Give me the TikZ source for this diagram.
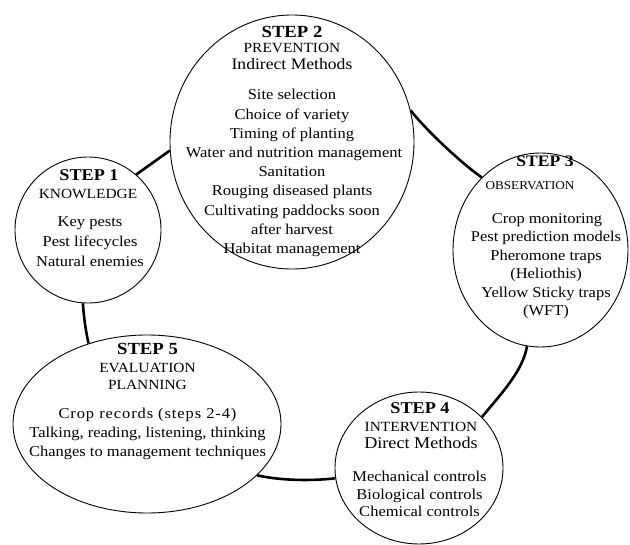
\documentclass[tikz,border=0pt]{standalone}
\usepackage{fontspec}
\setmainfont{Liberation Serif}[FakeStretch=1.1]
\usetikzlibrary{shapes.geometric}
\begin{document}
\begin{tikzpicture}[x=1pt,y=-1pt,
  ell/.style={draw, ellipse, line width=0.9pt, inner sep=0pt},
  link/.style={line width=2.6pt},
  hd/.style={anchor=base, inner sep=0pt, font=\bfseries\fontsize{17}{20}\selectfont},
  sub/.style={anchor=base, inner sep=0pt, font=\fontsize{14}{17}\selectfont},
  mid/.style={anchor=base, inner sep=0pt, font=\fontsize{16}{19}\selectfont},
  txt/.style={anchor=base, inner sep=0pt, font=\fontsize{15}{18}\selectfont}]
\useasboundingbox (0,0) rectangle (630,545);
% ellipses
\node[ell, minimum width=146pt, minimum height=146pt] (s1) at (88,230) {};
\node[ell, minimum width=244pt, minimum height=254pt] (s2) at (292,142) {};
\node[ell, minimum width=175pt, minimum height=194pt] (s3) at (540.5,250) {};
\node[ell, minimum width=168pt, minimum height=152pt] (s4) at (419,468) {};
\node[ell, minimum width=268pt, minimum height=178pt] (s5) at (147,424) {};
% connectors
\draw[link] (s1.49) -- (s2.184);
\draw[link] (s2.15) .. controls +(12,16) and +(-24,-17) .. (s3.129);
\draw[link] (s3.262) .. controls +(-4,25) and +(18,-22) .. (s4.39);
\draw[link] (s4.187) .. controls +(-25,3) and +(22,5) .. (s5.335);
\draw[link] (s5.126) .. controls +(-3,-14) and +(1,14) .. (s1.266);
% step 1
\node[hd, font=\bfseries\fontsize{16.5}{20}\selectfont] (a1) at (89,181) {STEP 1};
\node[sub] (a2) at (88,199) {KNOWLEDGE};
\node[txt] (a3) at (90,226.7) {Key pests};
\node[txt] (a4) at (90,246.7) {Pest lifecycles};
\node[txt] (a5) at (90,266.7) {Natural enemies};
% step 2
\node[hd] (b1) at (292,37.3) {STEP 2};
\node[sub] (b2) at (292,52.3) {PREVENTION};
\node[mid] (b3) at (292,70) {Indirect Methods};
\node[txt] (b4) at (292,100) {Site selection};
\node[txt] (b5) at (292,119.2) {Choice of variety};
\node[txt] (b6) at (292,138.4) {Timing of planting};
\node[txt] (b7) at (294,157.6) {Water and nutrition management};
\node[txt] (b8) at (292,176.8) {Sanitation};
\node[txt] (b9) at (292,196) {Rouging diseased plants};
\node[txt] (b10) at (292,215.2) {Cultivating paddocks soon};
\node[txt] (b11) at (292,234.4) {after harvest};
\node[txt] (b12) at (292,253.6) {Habitat management};
% step 3
\node[hd, font=\bfseries\fontsize{16}{19}\selectfont] (c1) at (545,166.7) {STEP 3};
\node[sub, font=\fontsize{12}{15}\selectfont] (c2) at (530,190) {OBSERVATION};
\node[txt] (c3) at (547,223.3) {Crop monitoring};
\node[txt] (c4) at (546,241.8) {Pest prediction models};
\node[txt] (c5) at (546,260.3) {Pheromone traps};
\node[txt] (c6) at (546,278.8) {(Heliothis)};
\node[txt] (c7) at (546,297.3) {Yellow Sticky traps};
\node[txt] (c8) at (546,315.8) {(WFT)};
% step 4
\node[hd, font=\bfseries\fontsize{16.5}{20}\selectfont] (d1) at (420,413.3) {STEP 4};
\node[sub] (d2) at (421,431.7) {INTERVENTION};
\node[mid, font=\fontsize{16.5}{19}\selectfont] (d3) at (421,449) {Direct Methods};
\node[txt] (d4) at (419.5,481.7) {Mechanical controls};
\node[txt] (d5) at (419.5,499.2) {Biological controls};
\node[txt] (d6) at (419.5,516.7) {Chemical controls};
% step 5
\node[hd] (e1) at (147.5,355) {STEP 5};
\node[sub] (e2) at (147.5,373) {EVALUATION};
\node[sub] (e3) at (147.5,390) {PLANNING};
\node[txt] (e4) at (147.5,418.3) {\addfontfeature{LetterSpace=6}Crop records (steps 2-4)};
\node[txt] (e5) at (147.5,437.5) {Talking, reading, listening, thinking};
\node[txt] (e6) at (147.5,456.7) {Changes to management techniques};
\end{tikzpicture}
\end{document}
